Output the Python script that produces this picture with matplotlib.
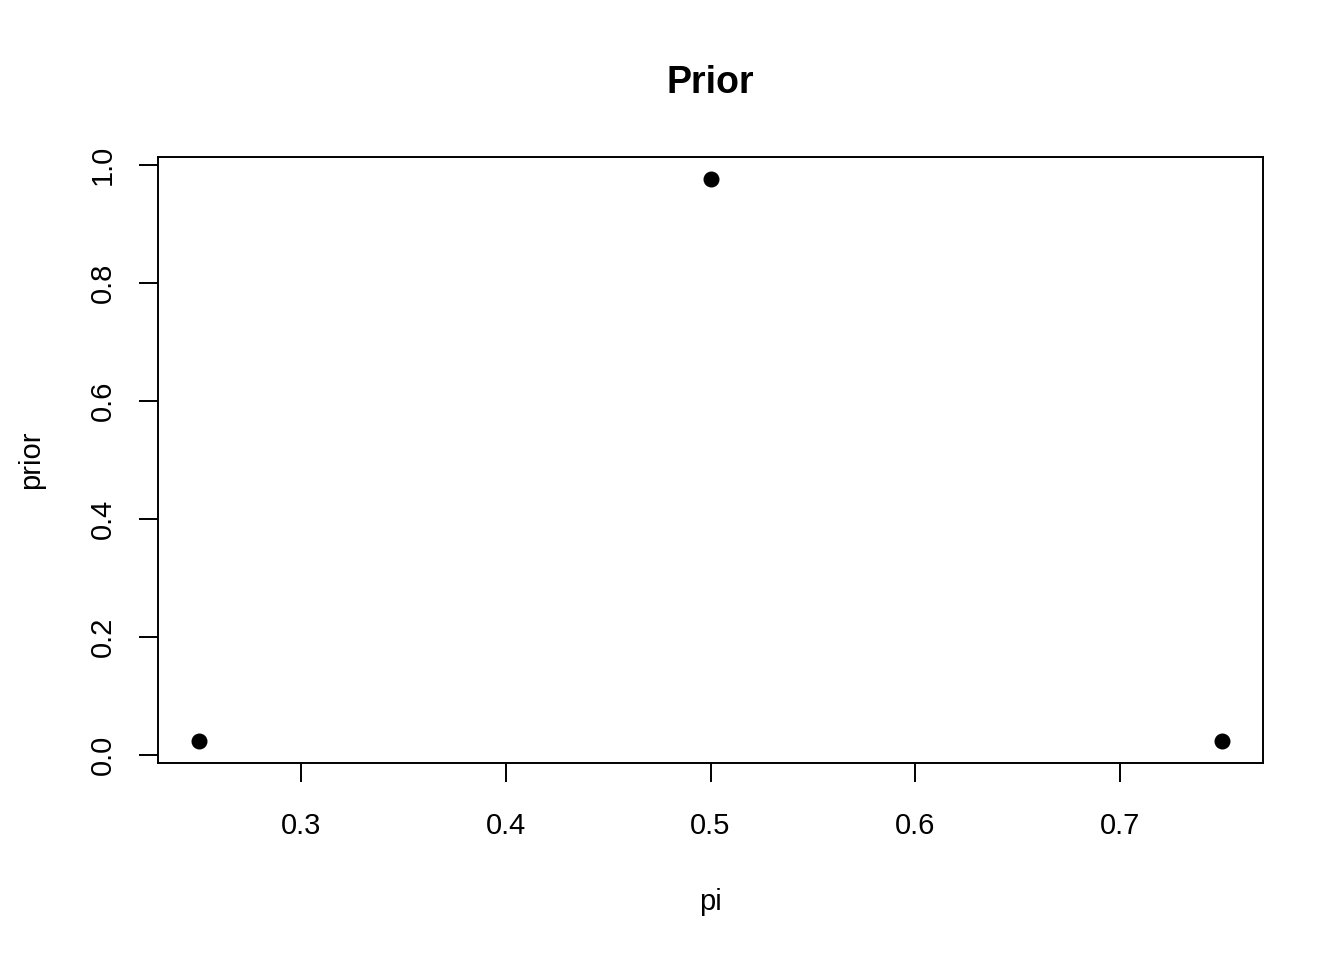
import matplotlib
matplotlib.use("Agg")
import matplotlib.pyplot as plt

# datos del prior
pi_vals = [0.25, 0.5, 0.75]
prior_vals = [0.025, 0.975, 0.025]
x_ticks = [0.3, 0.4, 0.5, 0.6, 0.7]
y_ticks = [0.0, 0.2, 0.4, 0.6, 0.8, 1.0]

plt.rcParams['font.family'] = ['Liberation Sans', 'DejaVu Sans']

fig = plt.figure(figsize=(13.44, 9.6), dpi=100)
W, H = 1344, 960
ax = fig.add_axes([158 / W, 1 - 763 / H, (1263 - 158) / W, (763 - 157) / H])

ax.plot(pi_vals, prior_vals, 'o', color='black', markersize=10.5)

ax.set_xlim(0.23, 0.77)
ax.set_ylim(-0.013, 1.013)

ax.set_xticks(x_ticks)
ax.set_xticklabels([f"{t:.1f}" for t in x_ticks])
ax.set_yticks(y_ticks)
ax.set_yticklabels([f"{t:.1f}" for t in y_ticks], rotation=90, va='center')

ax.tick_params(axis='x', direction='out', length=14, width=1.4,
               labelsize=21, pad=21, color='black')
ax.tick_params(axis='y', direction='out', length=14, width=1.4,
               labelsize=21, pad=15.5, color='black')
for s in ax.spines.values():
    s.set_linewidth(1.4)

ax.set_xlabel("pi", fontsize=21, labelpad=35)
ax.set_ylabel("prior", fontsize=21, labelpad=32)
ax.set_title("Prior", fontsize=27, fontweight='bold', pad=46)

fig.savefig("out.png", dpi=100)
